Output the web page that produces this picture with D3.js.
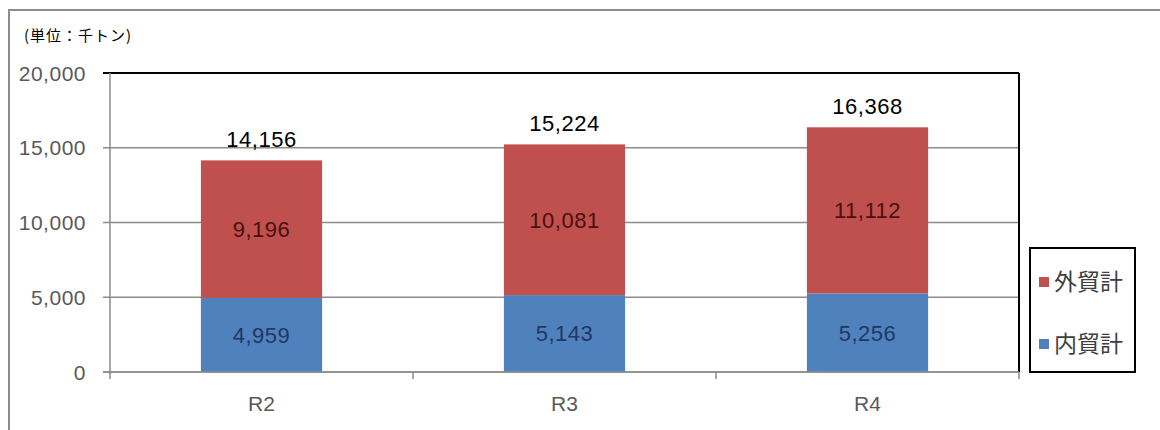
<!DOCTYPE html>
<html>
<head>
<meta charset="utf-8">
<script src="https://cdn.jsdelivr.net/npm/d3@7"></script>
<style>
  body { margin: 0; background: #fff; }
  text { font-family: "Liberation Sans", Arial, "Noto Sans CJK JP", sans-serif; }
</style>
</head>
<body>
<script>
// chart data
var years = ["R2", "R3", "R4"];
var domestic = [4959, 5143, 5256];   // 内貿計
var foreign = [9196, 10081, 11112];  // 外貿計
var totals = [14156, 15224, 16368];
var yTicks = [0, 5000, 10000, 15000, 20000];
var seriesNames = ["外貿計", "内貿計"];

var width = 1160,
    height = 430;

var svg = d3.select("body")
    .append("svg")
    .attr("width", width)
    .attr("height", height);

// outer frame (only top and left visible)
svg.append("path")
    .attr("d", "M9,430 L9,10 L1160,10")
    .attr("fill", "none")
    .attr("stroke", "#8c8c8c")
    .attr("stroke-width", 2);

svg.append("text")
    .attr("x", 24)
    .attr("y", 41)
    .attr("font-size", 15)
    .attr("letter-spacing", 1)
    .attr("fill", "#000")
    .style("font-family", "'Noto Sans CJK JP', sans-serif")
    .text("(単位：千トン)");

var plot = {left: 110, right: 1019, top: 73, bottom: 372};

var x = d3.scaleBand()
    .domain(years)
    .range([plot.left, plot.right])
    .paddingInner(0.6)
    .paddingOuter(0.3);

var y = d3.scaleLinear()
    .domain([0, 20000])
    .range([plot.bottom, plot.top]);

// gridlines
svg.selectAll(".grid")
    .data(yTicks)
    .enter()
    .append("line")
    .attr("x1", plot.left - 7)
    .attr("x2", plot.right)
    .attr("y1", function(d){ return y(d); })
    .attr("y2", function(d){ return y(d); })
    .attr("stroke", function(d){ return d === 20000 ? "#000" : "#8c8c8c"; })
    .attr("stroke-width", function(d){ return d === 20000 ? 2 : 1.5; });

// right border of plot
svg.append("line")
    .attr("x1", plot.right).attr("x2", plot.right)
    .attr("y1", plot.top).attr("y2", plot.bottom)
    .attr("stroke", "#000")
    .attr("stroke-width", 2);

// left axis line
svg.append("line")
    .attr("x1", plot.left).attr("x2", plot.left)
    .attr("y1", plot.top).attr("y2", plot.bottom + 2)
    .attr("stroke", "#8c8c8c")
    .attr("stroke-width", 1.5);

var fmt = d3.format(",");

svg.selectAll(".ytick")
    .data(yTicks)
    .enter()
    .append("text")
    .attr("x", plot.left - 24)
    .attr("y", function(d){ return y(d); })
    .attr("dy", "0.36em")
    .attr("text-anchor", "end")
    .attr("font-size", 21)
    .attr("letter-spacing", 0.5)
    .attr("fill", "#595959")
    .text(function(d){ return fmt(d); });

// bars
var stack = years.map(function(yr, i){
    return {year: yr, dom: domestic[i], fgn: foreign[i], total: totals[i]};
});

svg.selectAll(".dom")
    .data(stack)
    .enter()
    .append("rect")
    .attr("x", function(d){ return x(d.year); })
    .attr("width", x.bandwidth())
    .attr("y", function(d){ return y(d.dom); })
    .attr("height", function(d){ return y(0) - y(d.dom); })
    .attr("fill", "#4f81bd");

svg.selectAll(".fgn")
    .data(stack)
    .enter()
    .append("rect")
    .attr("x", function(d){ return x(d.year); })
    .attr("width", x.bandwidth())
    .attr("y", function(d){ return y(d.dom + d.fgn); })
    .attr("height", function(d){ return y(d.dom) - y(d.dom + d.fgn); })
    .attr("fill", "#c0504d");

// x axis line on top of bars
svg.append("line")
    .attr("x1", plot.left - 7).attr("x2", plot.right)
    .attr("y1", plot.bottom).attr("y2", plot.bottom)
    .attr("stroke", "#8c8c8c")
    .attr("stroke-width", 1.5);

var bounds = [plot.left].concat(years.map(function(d){ return x(d) + x.bandwidth() + x.step() * x.paddingInner() / 2; }));
svg.selectAll(".xtick")
    .data(bounds)
    .enter()
    .append("line")
    .attr("x1", function(d){ return d; })
    .attr("x2", function(d){ return d; })
    .attr("y1", plot.bottom)
    .attr("y2", plot.bottom + 7)
    .attr("stroke", "#8c8c8c")
    .attr("stroke-width", 1.5);

svg.selectAll(".xlab")
    .data(years)
    .enter()
    .append("text")
    .attr("x", function(d){ return x(d) + x.bandwidth() / 2; })
    .attr("y", 411)
    .attr("text-anchor", "middle")
    .attr("font-size", 21)
    .attr("fill", "#595959")
    .text(function(d){ return d; });

// value labels
svg.selectAll(".domlab")
    .data(stack)
    .enter()
    .append("text")
    .attr("x", function(d){ return x(d.year) + x.bandwidth() / 2; })
    .attr("y", function(d){ return y(d.dom / 2); })
    .attr("dy", "0.36em")
    .attr("text-anchor", "middle")
    .attr("font-size", 22)
    .attr("letter-spacing", 0.5)
    .attr("fill", "#1f3864")
    .text(function(d){ return fmt(d.dom); });

svg.selectAll(".fgnlab")
    .data(stack)
    .enter()
    .append("text")
    .attr("x", function(d){ return x(d.year) + x.bandwidth() / 2; })
    .attr("y", function(d){ return y(d.dom + d.fgn / 2); })
    .attr("dy", "0.36em")
    .attr("text-anchor", "middle")
    .attr("font-size", 22)
    .attr("letter-spacing", 0.5)
    .attr("fill", "#4a0f0f")
    .text(function(d){ return fmt(d.fgn); });

svg.selectAll(".totlab")
    .data(stack)
    .enter()
    .append("text")
    .attr("x", function(d){ return x(d.year) + x.bandwidth() / 2; })
    .attr("y", function(d){ return y(d.total) - 13; })
    .attr("text-anchor", "middle")
    .attr("font-size", 22)
    .attr("letter-spacing", 0.5)
    .attr("fill", "#000")
    .text(function(d){ return fmt(d.total); });

// legend
var legend = svg.append("g");
legend.append("rect")
    .attr("x", 1030).attr("y", 248)
    .attr("width", 105).attr("height", 124)
    .attr("fill", "#fff")
    .attr("stroke", "#000")
    .attr("stroke-width", 2);

var legendColors = ["#c0504d", "#4f81bd"];
var legendY = [282, 344];
legend.selectAll(".lsq")
    .data(seriesNames)
    .enter()
    .append("rect")
    .attr("x", 1039)
    .attr("y", function(d, i){ return legendY[i] - 5; })
    .attr("width", 10).attr("height", 10)
    .attr("fill", function(d, i){ return legendColors[i]; });

legend.selectAll(".ltxt")
    .data(seriesNames)
    .enter()
    .append("text")
    .attr("x", 1054)
    .attr("y", function(d, i){ return legendY[i]; })
    .attr("dy", "0.36em")
    .attr("font-size", 23)
    .attr("fill", "#404040")
    .style("font-family", "'Noto Sans CJK JP', sans-serif")
    .text(function(d){ return d; });
</script>
</body>
</html>
